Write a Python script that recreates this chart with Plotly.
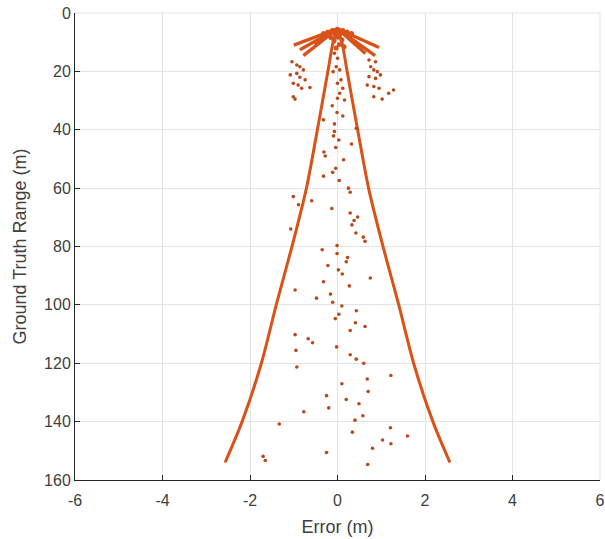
import plotly.graph_objects as go

# ---------------- data ----------------
# error bound (m) vs ground-truth range (m)
bound_range = [5.5, 10, 20, 40, 60, 80, 100, 120, 140, 154]
bound_err = [0.0, 0.10, 0.22, 0.46, 0.71, 1.04, 1.40, 1.74, 2.18, 2.57]

# dense fan of detections near the sensor: apex and ray end points
apex_err = [0.0]
apex_range = [5.4]
ray_end_err = [-1.00, -0.86, -0.78, -0.52, 0.52, 0.64, 0.86, 0.95]
ray_end_range = [11.0, 12.6, 14.6, 10.8, 11.2, 13.9, 14.6, 11.8]

blob_err = [0.0, -0.12, 0.12, -0.22, 0.22, -0.05, 0.06, 0.0, -0.08, 0.1, 0.04, -0.03, 0.15, -0.15,
            -0.32, 0.32, -0.28, 0.28]
blob_range = [5.6, 6.0, 6.0, 6.5, 6.5, 7.2, 7.0, 8.3, 9.6, 9.2, 10.8, 12.0, 11.6, 8.4,
              7.0, 7.0, 7.6, 7.6]

# scattered detections
det_err = [
    -1.04, -0.93, -0.86, -0.78, -1.08, -0.93, -0.86, -0.74, -1.01, -0.90, -0.82, -0.63, -1.01, -0.97,
    0.72, 0.87, 0.76, 0.83, 0.91, 0.98, 0.72, 0.87, 0.68, 0.83, 0.95, 0.83, 1.02, 1.17, 1.28,
    -0.07, 0.00, -0.03, 0.05, -0.10, 0.08, 0.00, 0.12, 0.05, 0.00, 0.16,
    -0.12, -0.01, 0.12, -0.32, -0.07, 0.43, -0.07, -0.09, 0.03, 0.32, -0.04, -0.31, -0.28, 0.14,
    -0.04, -0.11, -0.32, 0.04, 0.25, 0.29, -1.01, -0.59, -0.89, -0.13, 0.29, 0.46, 0.38, 0.33,
    -1.07, 0.42, 0.59, 0.63, -0.01, -0.35, -0.01, 0.23, 0.20, -0.22, 0.02, 0.11, 0.75,
    -0.32, -0.97, 0.27, -0.48, -0.16, -0.11, 0.10, 0.43, 0.03, -0.05, 0.41, 0.63, 0.29, -0.97,
    -0.67, -0.57, -0.02, -0.95, 0.29, 0.43, 0.60, -0.93, 0.68, 1.22, 0.10, 0.70, -0.25, 0.20,
    0.49, -0.20, -0.77, 0.58, 0.40, -1.33, 1.21, 0.34, 1.60, 1.03, 1.22, 0.80, -0.25, -1.70,
    -1.65, 0.69,
]
det_range = [
    16.7, 17.8, 18.4, 19.5, 21.2, 20.7, 22.0, 22.9, 24.1, 24.7, 25.8, 25.5, 28.7, 29.5,
    16.1, 16.7, 18.4, 19.5, 20.1, 21.2, 21.8, 22.4, 24.7, 25.2, 25.8, 28.7, 29.5, 27.5, 26.4,
    13.8, 15.5, 18.4, 19.5, 20.1, 22.9, 24.1, 25.8, 27.5, 29.2, 29.8,
    31.8, 34.1, 35.3, 36.6, 38.0, 39.5, 40.6, 42.1, 43.5, 44.9, 46.1, 47.6, 49.0, 50.3,
    53.2, 54.6, 55.9, 57.4, 60.0, 61.4, 62.9, 64.3, 65.7, 67.0, 68.5, 69.9, 71.1, 72.6,
    74.0, 75.4, 76.8, 78.2, 79.7, 81.1, 82.4, 83.8, 85.2, 86.5, 88.0, 89.4, 90.8,
    92.1, 94.9, 93.5, 97.7, 96.3, 99.1, 100.4, 102.0, 103.2, 104.7, 106.1, 107.4, 108.8, 110.2,
    111.6, 113.0, 114.4, 115.6, 117.1, 118.6, 120.0, 121.3, 125.4, 124.2, 127.0, 129.7, 131.1, 132.4,
    133.9, 135.3, 136.6, 138.0, 139.5, 140.8, 142.1, 143.6, 144.9, 146.3, 147.6, 149.1, 150.6, 151.9,
    153.3, 154.7,
]

x_ticks = [-6, -4, -2, 0, 2, 4, 6]
y_ticks = [0, 20, 40, 60, 80, 100, 120, 140, 160]

# ---------------- style ----------------
LINE_C = "#D95319"
DOT_C = "#B9491A"
FONT = "Liberation Sans, Arial, Helvetica, sans-serif"
TXT = "#404040"

fig = go.Figure()

# fan rays
for ex, ey in zip(ray_end_err, ray_end_range):
    fig.add_trace(go.Scatter(
        x=[apex_err[0], ex], y=[apex_range[0], ey], mode="lines",
        line=dict(color=LINE_C, width=3.4), showlegend=False, hoverinfo="skip"))

fig.add_trace(go.Scatter(
    x=blob_err, y=blob_range, mode="markers",
    marker=dict(color=LINE_C, size=5), showlegend=False))

# bounds
neg_err = [-v for v in bound_err]
for xs in (neg_err, bound_err):
    fig.add_trace(go.Scatter(
        x=xs, y=bound_range, mode="lines",
        line=dict(color=LINE_C, width=3, shape="spline", smoothing=0.8),
        showlegend=False))

fig.add_trace(go.Scatter(
    x=det_err, y=det_range, mode="markers",
    marker=dict(color=DOT_C, size=3.6), showlegend=False))

axis_common = dict(
    showgrid=True, gridcolor="#E3E3E3", gridwidth=1,
    zeroline=False, showline=True, linecolor="#262626", linewidth=1,
    ticks="inside", ticklen=5, tickcolor="#262626",
    tickfont=dict(family=FONT, size=16, color=TXT),
    title_font=dict(family=FONT, size=18, color=TXT),
    automargin=False, ticklabeloverflow="allow",
)

fig.update_xaxes(range=[-6, 6], tickvals=x_ticks, ticktext=[str(v) for v in x_ticks],
                 title_text="Error (m)", title_standoff=12, ticklabelstandoff=6, **axis_common)
fig.update_yaxes(range=[160, 0], tickvals=y_ticks, ticktext=[str(v) for v in y_ticks],
                 title_text="Ground Truth Range (m)", title_standoff=12,
                 ticklabelstandoff=0, **axis_common)

fig.update_layout(
    width=605, height=539,
    margin=dict(l=75, r=5, t=13, b=59),
    plot_bgcolor="white", paper_bgcolor="white",
    shapes=[
        dict(type="line", xref="paper", yref="paper", x0=0, x1=1, y0=1, y1=1,
             line=dict(color="#E3E3E3", width=1), layer="below"),
        dict(type="line", xref="paper", yref="paper", x0=1, x1=1, y0=0, y1=1,
             line=dict(color="#E3E3E3", width=1), layer="below"),
    ],
)

fig.write_html(
    "out.html",
    config={"displayModeBar": False},
    post_script="document.body.style.margin='0';document.body.style.overflow='hidden';",
)
